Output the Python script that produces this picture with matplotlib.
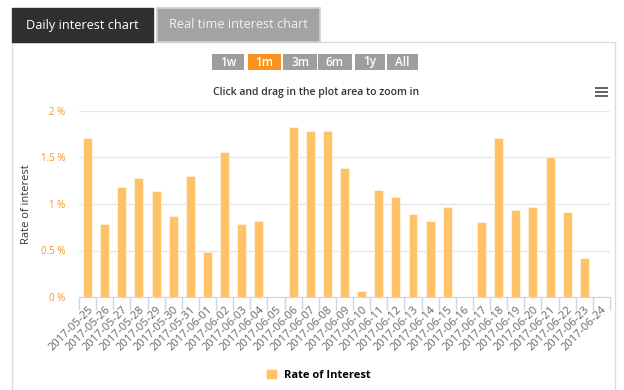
import matplotlib
matplotlib.use("Agg")
import matplotlib.pyplot as plt
from matplotlib.patches import Rectangle
import numpy as np

plt.rcParams['font.family'] = ['Open Sans', 'DejaVu Sans']

dates = ["2017-05-25", "2017-05-26", "2017-05-27", "2017-05-28", "2017-05-29",
         "2017-05-30", "2017-05-31", "2017-06-01", "2017-06-02", "2017-06-03",
         "2017-06-04", "2017-06-05", "2017-06-06", "2017-06-07", "2017-06-08",
         "2017-06-09", "2017-06-10", "2017-06-11", "2017-06-12", "2017-06-13",
         "2017-06-14", "2017-06-15", "2017-06-16", "2017-06-17", "2017-06-18",
         "2017-06-19", "2017-06-20", "2017-06-21", "2017-06-22", "2017-06-23",
         "2017-06-24"]
rates = [1.71, 0.79, 1.18, 1.28, 1.14, 0.87, 1.30, 0.48, 1.56, 0.79,
         0.82, 0.0, 1.83, 1.78, 1.78, 1.39, 0.06, 1.15, 1.08, 0.89,
         0.82, 0.97, 0.0, 0.81, 1.71, 0.94, 0.97, 1.50, 0.91, 0.42,
         0.01]
yticks = [0, 0.5, 1, 1.5, 2]
ytick_labels = ["0 %", "0.5 %", "1 %", "1.5 %", "2 %"]
buttons = ["1w", "1m", "3m", "6m", "1y", "All"]
button_x = [212, 248, 283, 318, 355, 387]
button_w = [32, 33, 34, 34, 30, 31]
active = "1m"

W, H = 624, 390
fig = plt.figure(figsize=(W / 100, H / 100), dpi=100)
fig.patch.set_facecolor("white")


# rectangle given in pixel coordinates from the top left
def box(x, y, w, h, **kw):
    kw.setdefault("zorder", -5)
    fig.patches.append(Rectangle((x / W, 1 - (y + h) / H), w / W, h / H,
                                 transform=fig.transFigure, **kw))


def label(x, y, s, **kw):
    fig.text(x / W, 1 - y / H, s, **kw)


# page panel and tabs
box(12, 42, 603, 360, facecolor="white", edgecolor="#dddddd", lw=1, zorder=-10)
box(12, 8, 141, 34, facecolor="#2f2f2f", edgecolor="#2f2f2f", lw=1)
label(82, 25, "Daily interest chart", color="white", fontsize=9.2, ha="center", va="center")
box(157, 8, 163, 34, facecolor="#a3a3a3", edgecolor="#d0d0d0", lw=1.2)
label(238, 25, "Real time interest chart", color="#f2f2f2", fontsize=9.2, ha="center", va="center")

# range selector buttons
for b, bx, bw in zip(buttons, button_x, button_w):
    fc = "#f7931e" if b == active else "#9e9e9e"
    box(bx, 54, bw, 16, facecolor=fc, edgecolor="none")
    label(bx + bw / 2, 62, b, color="white", fontsize=8.5, ha="center", va="center",
          fontweight="semibold")

label(316, 92, "Click and drag in the plot area to zoom in", color="#333333",
      fontsize=7.5, ha="center", va="center", fontweight="semibold")

# hamburger menu
for yy in (88, 92, 96):
    box(595, yy - 1, 13, 2, facecolor="#666666", edgecolor="none")

ax = fig.add_axes([79 / W, 1 - 297 / H, (610 - 79) / W, (297 - 111) / H])
ax.patch.set_alpha(0)
x = np.arange(len(dates))
ax.bar(x, rates, width=0.52, color="#ffc266", edgecolor="#fff3e0", lw=0.6,
       label="Rate of Interest", zorder=3)

ax.set_xlim(-0.5, len(dates) - 0.5)
ax.set_ylim(0, 2)
ax.set_yticks(yticks)
ax.set_yticklabels(ytick_labels, color="#f7931e", fontsize=7)
ax.yaxis.grid(True, color="#e6e6e6", lw=1)
ax.set_axisbelow(True)
ax.tick_params(axis="y", length=0, pad=10)

ax.set_xticks(x)
ax.set_xticklabels(dates, rotation=45, ha="right", rotation_mode="anchor",
                   fontsize=8, color="#666666")
ax.tick_params(axis="x", length=0, pad=5)
ax.set_xticks(np.arange(len(dates) + 1) - 0.5, minor=True)
ax.tick_params(axis="x", which="minor", length=9, color="#ccd6eb", width=1)

for s in ["top", "right", "left"]:
    ax.spines[s].set_visible(False)
ax.spines["bottom"].set_color("#ccd6eb")

ax.set_ylabel("Rate of interest", fontsize=8, color="#333333")
ax.yaxis.set_label_coords(-47 / (610 - 79), 0.5)

fig.legend(loc="center", bbox_to_anchor=(318 / W, 1 - 375 / H), frameon=False,
           prop={"weight": "bold", "size": 8}, handlelength=1.0, handleheight=1.0,
           handletextpad=0.6)

fig.savefig("out.png", dpi=100)
